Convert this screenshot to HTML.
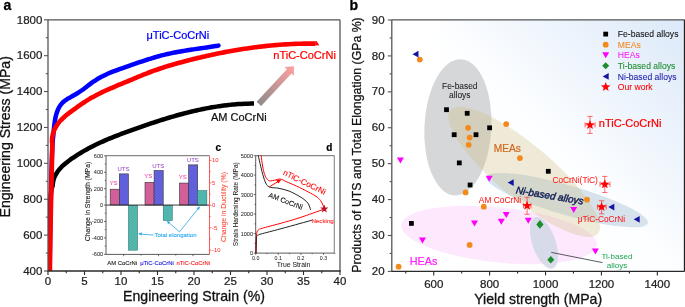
<!DOCTYPE html>
<html><head><meta charset="utf-8"><style>
html,body{margin:0;padding:0;background:#fff;}
body{width:685px;height:307px;overflow:hidden;}
svg{display:block;font-family:"Liberation Sans", sans-serif;}
</style></head><body>
<svg xmlns="http://www.w3.org/2000/svg" width="685" height="307" viewBox="0 0 685 307">
<rect width="685" height="307" fill="#fff"/>
<defs><clipPath id="ca"><rect x="48.0" y="19.8" width="292.0" height="251.2"/></clipPath><clipPath id="cb"><rect x="391.8" y="19.8" width="293" height="251.5"/></clipPath><linearGradient id="bg" x1="1" y1="0" x2="0" y2="1"><stop offset="0" stop-color="#dce9f9"/><stop offset="0.52" stop-color="#fdfeff"/><stop offset="1" stop-color="#ffffff"/></linearGradient><linearGradient id="arr" x1="0" y1="1" x2="1" y2="0"><stop offset="0" stop-color="#8a8a8a"/><stop offset="1" stop-color="#ffa0a0"/></linearGradient><pattern id="hatch" width="2.2" height="2.2" patternUnits="userSpaceOnUse" patternTransform="rotate(45)"><line x1="0" y1="0" x2="0" y2="2.2" stroke="#000" stroke-opacity="0.22" stroke-width="0.7"/></pattern></defs>
<g clip-path="url(#ca)" fill="none" stroke-linejoin="round">
<path d="M49.20,271.00 C49.30,264.17 49.58,241.83 49.80,230.00 C50.02,218.17 50.23,206.67 50.50,200.00 C50.77,193.33 51.05,192.33 51.40,190.00 C51.75,187.67 52.34,187.21 52.60,186.00 C52.85,184.79 52.77,183.81 52.94,182.77 C53.10,181.73 53.34,180.73 53.61,179.76 C53.89,178.79 54.23,177.86 54.61,176.96 C54.98,176.06 55.41,175.19 55.88,174.35 C56.34,173.51 56.86,172.70 57.40,171.92 C57.94,171.13 58.53,170.37 59.14,169.63 C59.75,168.90 60.40,168.18 61.07,167.49 C61.73,166.79 62.43,166.12 63.15,165.46 C63.87,164.81 64.61,164.17 65.36,163.54 C66.11,162.92 66.88,162.31 67.66,161.71 C68.44,161.10 69.23,160.52 70.03,159.93 C70.83,159.35 71.63,158.78 72.44,158.22 C73.25,157.66 74.06,157.10 74.88,156.55 C75.70,156.01 76.53,155.47 77.36,154.94 C78.19,154.41 79.03,153.88 79.88,153.37 C80.72,152.85 81.57,152.35 82.42,151.84 C83.27,151.34 84.13,150.85 85.00,150.36 C85.86,149.88 86.73,149.40 87.60,148.93 C88.47,148.45 89.35,147.99 90.23,147.53 C91.11,147.07 92.00,146.61 92.89,146.17 C93.78,145.72 94.67,145.28 95.57,144.84 C96.46,144.41 97.36,143.98 98.27,143.55 C99.17,143.13 100.08,142.71 100.99,142.29 C101.90,141.88 102.81,141.47 103.73,141.07 C104.65,140.66 105.57,140.26 106.49,139.87 C107.41,139.47 108.34,139.08 109.26,138.70 C110.19,138.31 111.12,137.93 112.05,137.55 C112.98,137.17 113.92,136.80 114.85,136.43 C115.79,136.06 116.72,135.69 117.66,135.32 C118.60,134.96 119.54,134.60 120.48,134.24 C121.42,133.88 122.36,133.53 123.31,133.18 C124.25,132.82 125.19,132.48 126.14,132.13 C127.08,131.78 128.03,131.44 128.98,131.09 C129.92,130.75 130.87,130.41 131.81,130.07 C132.76,129.73 133.71,129.39 134.65,129.06 C135.60,128.72 136.55,128.39 137.49,128.05 C138.44,127.72 139.39,127.39 140.33,127.06 C141.28,126.73 142.22,126.40 143.17,126.07 C144.12,125.74 145.06,125.42 146.01,125.09 C146.95,124.77 147.90,124.45 148.85,124.13 C149.79,123.81 150.74,123.49 151.69,123.18 C152.63,122.86 153.58,122.55 154.53,122.24 C155.47,121.93 156.42,121.62 157.37,121.31 C158.31,121.00 159.26,120.70 160.21,120.40 C161.16,120.10 162.11,119.80 163.05,119.50 C164.00,119.21 164.95,118.91 165.90,118.62 C166.85,118.33 167.80,118.04 168.75,117.76 C169.70,117.47 170.65,117.19 171.60,116.91 C172.55,116.63 173.51,116.35 174.46,116.08 C175.41,115.81 176.36,115.54 177.32,115.27 C178.27,115.01 179.22,114.74 180.18,114.48 C181.13,114.22 182.09,113.97 183.05,113.71 C184.00,113.46 184.96,113.21 185.92,112.97 C186.88,112.72 187.83,112.48 188.79,112.24 C189.75,112.00 190.71,111.77 191.68,111.54 C192.64,111.31 193.60,111.08 194.56,110.86 C195.53,110.64 196.49,110.42 197.46,110.21 C198.42,109.99 199.39,109.78 200.36,109.58 C201.32,109.37 202.29,109.17 203.26,108.98 C204.23,108.78 205.20,108.59 206.17,108.40 C207.15,108.22 208.12,108.03 209.09,107.86 C210.07,107.68 211.04,107.51 212.02,107.34 C213.00,107.17 213.98,107.01 214.96,106.85 C215.94,106.69 216.92,106.54 217.90,106.39 C218.88,106.24 219.87,106.10 220.85,105.96 C221.84,105.82 222.82,105.69 223.81,105.57 C224.80,105.44 225.79,105.32 226.78,105.20 C227.77,105.09 228.77,104.98 229.76,104.87 C230.75,104.77 231.75,104.67 232.75,104.58 C233.75,104.48 234.75,104.40 235.75,104.31 C236.75,104.23 237.75,104.16 238.76,104.09 C239.76,104.02 240.77,103.96 241.78,103.90 C242.79,103.84 243.80,103.79 244.81,103.75 C245.82,103.71 246.84,103.67 247.85,103.64 C248.87,103.61 249.89,103.58 250.91,103.56 C251.93,103.54 253.46,103.53 253.97,103.53" stroke="#000" stroke-width="4.5" fill="none"/>
<path d="M49.60,271.00 C49.70,264.17 49.97,243.50 50.20,230.00 C50.43,216.50 50.73,201.67 51.00,190.00 C51.27,178.33 51.55,167.50 51.80,160.00 C52.05,152.50 52.33,148.33 52.50,145.00 C52.67,141.67 52.69,141.31 52.80,140.00 C52.91,138.69 53.03,138.09 53.13,137.12 C53.24,136.15 53.33,135.17 53.42,134.19 C53.51,133.21 53.59,132.21 53.69,131.22 C53.78,130.23 53.86,129.23 53.96,128.23 C54.06,127.23 54.17,126.23 54.29,125.23 C54.40,124.23 54.53,123.23 54.68,122.23 C54.82,121.24 54.98,120.24 55.17,119.26 C55.35,118.28 55.56,117.30 55.79,116.33 C56.02,115.36 56.28,114.39 56.57,113.44 C56.86,112.50 57.18,111.56 57.55,110.65 C57.91,109.73 58.30,108.84 58.75,107.98 C59.20,107.13 59.69,106.29 60.24,105.51 C60.78,104.73 61.38,103.98 62.04,103.29 C62.69,102.59 63.41,101.95 64.16,101.34 C64.91,100.72 65.72,100.15 66.54,99.60 C67.36,99.04 68.22,98.53 69.08,98.01 C69.94,97.49 70.83,97.00 71.71,96.50 C72.59,96.00 73.47,95.51 74.34,95.01 C75.22,94.51 76.09,94.01 76.94,93.50 C77.80,92.98 78.65,92.46 79.48,91.92 C80.31,91.38 81.13,90.83 81.94,90.26 C82.75,89.69 83.54,89.10 84.32,88.50 C85.11,87.91 85.89,87.31 86.67,86.71 C87.45,86.11 88.22,85.50 89.00,84.90 C89.78,84.30 90.56,83.70 91.36,83.12 C92.15,82.54 92.95,81.97 93.77,81.42 C94.58,80.86 95.41,80.33 96.25,79.80 C97.09,79.28 97.95,78.78 98.81,78.29 C99.66,77.80 100.53,77.32 101.41,76.86 C102.28,76.40 103.17,75.95 104.05,75.52 C104.94,75.08 105.83,74.66 106.73,74.25 C107.63,73.84 108.53,73.44 109.44,73.05 C110.35,72.66 111.26,72.28 112.18,71.91 C113.09,71.54 114.01,71.18 114.94,70.82 C115.86,70.46 116.79,70.12 117.72,69.77 C118.64,69.43 119.58,69.09 120.51,68.76 C121.44,68.42 122.38,68.09 123.31,67.77 C124.25,67.44 125.19,67.12 126.13,66.79 C127.07,66.47 128.01,66.15 128.94,65.83 C129.88,65.51 130.82,65.19 131.76,64.86 C132.70,64.54 133.64,64.22 134.58,63.90 C135.51,63.58 136.45,63.26 137.39,62.94 C138.33,62.62 139.27,62.31 140.21,61.99 C141.15,61.68 142.09,61.36 143.03,61.05 C143.97,60.74 144.91,60.43 145.85,60.13 C146.79,59.82 147.74,59.52 148.68,59.22 C149.62,58.93 150.57,58.63 151.51,58.34 C152.46,58.05 153.40,57.77 154.35,57.49 C155.30,57.21 156.25,56.93 157.20,56.66 C158.15,56.39 159.10,56.13 160.06,55.87 C161.01,55.61 161.96,55.36 162.92,55.12 C163.88,54.87 164.84,54.64 165.80,54.41 C166.76,54.18 167.72,53.95 168.69,53.74 C169.65,53.52 170.62,53.32 171.58,53.11 C172.55,52.91 173.52,52.71 174.49,52.52 C175.46,52.33 176.43,52.15 177.41,51.97 C178.38,51.79 179.36,51.62 180.33,51.45 C181.31,51.27 182.28,51.11 183.26,50.95 C184.24,50.78 185.22,50.63 186.20,50.47 C187.17,50.32 188.15,50.16 189.13,50.01 C190.11,49.86 191.09,49.72 192.08,49.57 C193.06,49.43 194.04,49.28 195.02,49.14 C196.00,49.00 196.98,48.86 197.96,48.71 C198.94,48.57 199.92,48.43 200.91,48.29 C201.89,48.15 202.87,48.01 203.85,47.87 C204.83,47.73 205.81,47.59 206.79,47.44 C207.76,47.30 208.74,47.15 209.72,47.01 C210.70,46.86 211.67,46.71 212.65,46.56 C213.63,46.41 214.60,46.25 215.57,46.09 C216.55,45.94 218.00,45.69 218.49,45.61" stroke="#0000ff" stroke-width="4.5" fill="none" stroke-linecap="round"/>
<path d="M49.90,271.00 C50.00,264.17 50.27,243.50 50.50,230.00 C50.73,216.50 51.05,201.67 51.30,190.00 C51.55,178.33 51.83,167.50 52.00,160.00 C52.17,152.50 52.29,148.04 52.30,145.00 C52.31,141.97 52.07,142.84 52.03,141.79 C52.00,140.74 52.03,139.71 52.11,138.70 C52.19,137.69 52.33,136.70 52.52,135.73 C52.70,134.76 52.94,133.82 53.22,132.89 C53.51,131.96 53.84,131.05 54.21,130.17 C54.59,129.28 55.01,128.42 55.46,127.57 C55.92,126.73 56.42,125.91 56.95,125.11 C57.49,124.31 58.06,123.53 58.67,122.77 C59.27,122.01 59.91,121.28 60.57,120.56 C61.24,119.85 61.93,119.15 62.65,118.47 C63.36,117.78 64.10,117.12 64.85,116.47 C65.61,115.81 66.38,115.18 67.16,114.55 C67.95,113.92 68.75,113.30 69.55,112.69 C70.35,112.07 71.16,111.47 71.97,110.87 C72.78,110.27 73.59,109.68 74.41,109.09 C75.22,108.50 76.03,107.91 76.85,107.33 C77.66,106.75 78.48,106.17 79.29,105.60 C80.11,105.03 80.93,104.47 81.76,103.91 C82.58,103.36 83.40,102.80 84.23,102.26 C85.06,101.72 85.90,101.19 86.74,100.66 C87.57,100.14 88.42,99.62 89.26,99.11 C90.11,98.60 90.96,98.11 91.82,97.62 C92.68,97.13 93.54,96.65 94.41,96.18 C95.28,95.71 96.15,95.25 97.03,94.79 C97.91,94.34 98.79,93.89 99.68,93.45 C100.56,93.01 101.45,92.58 102.34,92.15 C103.24,91.73 104.13,91.31 105.03,90.89 C105.93,90.48 106.84,90.07 107.74,89.66 C108.65,89.26 109.55,88.86 110.46,88.46 C111.37,88.06 112.29,87.67 113.20,87.28 C114.11,86.89 115.03,86.51 115.95,86.12 C116.86,85.74 117.78,85.35 118.70,84.97 C119.62,84.59 120.54,84.21 121.46,83.84 C122.38,83.46 123.30,83.08 124.22,82.70 C125.14,82.32 126.06,81.95 126.98,81.57 C127.90,81.19 128.82,80.81 129.74,80.43 C130.66,80.05 131.58,79.66 132.49,79.28 C133.41,78.90 134.33,78.51 135.25,78.13 C136.16,77.75 137.08,77.36 138.00,76.98 C138.91,76.60 139.83,76.22 140.75,75.84 C141.67,75.46 142.59,75.08 143.51,74.71 C144.43,74.34 145.35,73.97 146.27,73.60 C147.19,73.24 148.11,72.87 149.04,72.52 C149.96,72.16 150.89,71.81 151.82,71.46 C152.75,71.11 153.68,70.77 154.61,70.44 C155.55,70.10 156.48,69.77 157.42,69.45 C158.36,69.13 159.30,68.81 160.24,68.50 C161.18,68.19 162.12,67.88 163.07,67.58 C164.01,67.27 164.96,66.98 165.91,66.68 C166.86,66.39 167.81,66.10 168.76,65.82 C169.71,65.53 170.66,65.25 171.61,64.97 C172.57,64.69 173.52,64.42 174.48,64.15 C175.43,63.87 176.39,63.60 177.34,63.34 C178.30,63.07 179.26,62.81 180.22,62.55 C181.17,62.28 182.13,62.02 183.09,61.77 C184.05,61.51 185.01,61.25 185.97,61.00 C186.93,60.75 187.89,60.50 188.85,60.25 C189.81,60.00 190.78,59.76 191.74,59.51 C192.70,59.27 193.66,59.03 194.63,58.79 C195.59,58.55 196.56,58.32 197.52,58.08 C198.49,57.85 199.45,57.62 200.42,57.39 C201.38,57.16 202.35,56.93 203.32,56.71 C204.28,56.49 205.25,56.26 206.22,56.04 C207.19,55.83 208.16,55.61 209.13,55.40 C210.10,55.18 211.07,54.97 212.04,54.76 C213.01,54.55 213.98,54.35 214.95,54.14 C215.92,53.94 216.89,53.74 217.86,53.54 C218.84,53.34 219.81,53.15 220.78,52.95 C221.76,52.76 222.73,52.57 223.71,52.38 C224.68,52.19 225.66,52.01 226.63,51.83 C227.61,51.64 228.58,51.46 229.56,51.29 C230.54,51.11 231.51,50.94 232.49,50.76 C233.47,50.59 234.45,50.42 235.43,50.26 C236.41,50.09 237.38,49.93 238.36,49.77 C239.34,49.61 240.32,49.45 241.31,49.30 C242.29,49.14 243.27,48.99 244.25,48.84 C245.23,48.69 246.21,48.54 247.20,48.40 C248.18,48.26 249.16,48.12 250.15,47.98 C251.13,47.84 252.11,47.71 253.10,47.58 C254.08,47.44 255.07,47.32 256.05,47.19 C257.04,47.06 258.02,46.94 259.01,46.82 C260.00,46.70 260.98,46.59 261.97,46.47 C262.96,46.36 263.95,46.25 264.93,46.14 C265.92,46.03 266.91,45.93 267.90,45.83 C268.89,45.73 269.88,45.63 270.86,45.54 C271.85,45.44 272.84,45.35 273.83,45.26 C274.82,45.18 275.81,45.09 276.80,45.01 C277.79,44.93 278.78,44.85 279.77,44.78 C280.76,44.70 281.76,44.63 282.75,44.57 C283.74,44.50 284.73,44.43 285.72,44.37 C286.71,44.31 287.70,44.26 288.70,44.20 C289.69,44.15 290.68,44.10 291.67,44.05 C292.66,44.01 293.66,43.96 294.65,43.92 C295.64,43.89 296.63,43.85 297.63,43.82 C298.62,43.79 299.61,43.76 300.60,43.73 C301.60,43.71 302.59,43.69 303.58,43.67 C304.58,43.65 305.57,43.64 306.56,43.63 C307.55,43.62 308.55,43.62 309.54,43.61 C310.53,43.61 311.53,43.62 312.52,43.62 C313.51,43.63 315.00,43.65 315.50,43.65" stroke="#ff0000" stroke-width="4.6" fill="none"/>
<path d="M315.4,40.9 L316.8,41.2 L319.3,45.6 L315.4,45.2 Z" fill="#ff0000"/>
</g>
<g>
<path d="M261.16,105.92 L291.48,73.53 L293.82,75.72 L294.00,66.30 L284.62,67.11 L286.95,69.29 L256.64,101.68 Z" fill="url(#arr)"/>
</g>
<line x1="48.00" y1="19.80" x2="340.00" y2="19.80" stroke="#555" stroke-width="1.3"/>
<line x1="340.00" y1="19.80" x2="340.00" y2="271.00" stroke="#555" stroke-width="1.3"/>
<line x1="48.00" y1="19.80" x2="48.00" y2="271.00" stroke="#555" stroke-width="1.3"/>
<line x1="47.40" y1="271.00" x2="340.60" y2="271.00" stroke="#2a2a2a" stroke-width="1.3"/>
<line x1="44.00" y1="271.00" x2="48.00" y2="271.00" stroke="#555" stroke-width="1.1"/>
<text x="42.40" y="274.70" font-size="11.5" fill="#222" text-anchor="end" stroke="#222" stroke-width="0.240">400</text>
<line x1="45.80" y1="253.06" x2="48.00" y2="253.06" stroke="#555" stroke-width="1.1"/>
<line x1="44.00" y1="235.11" x2="48.00" y2="235.11" stroke="#555" stroke-width="1.1"/>
<text x="42.40" y="238.81" font-size="11.5" fill="#222" text-anchor="end" stroke="#222" stroke-width="0.240">600</text>
<line x1="45.80" y1="217.17" x2="48.00" y2="217.17" stroke="#555" stroke-width="1.1"/>
<line x1="44.00" y1="199.23" x2="48.00" y2="199.23" stroke="#555" stroke-width="1.1"/>
<text x="42.40" y="202.93" font-size="11.5" fill="#222" text-anchor="end" stroke="#222" stroke-width="0.240">800</text>
<line x1="45.80" y1="181.29" x2="48.00" y2="181.29" stroke="#555" stroke-width="1.1"/>
<line x1="44.00" y1="163.34" x2="48.00" y2="163.34" stroke="#555" stroke-width="1.1"/>
<text x="42.40" y="167.04" font-size="11.5" fill="#222" text-anchor="end" stroke="#222" stroke-width="0.240">1000</text>
<line x1="45.80" y1="145.40" x2="48.00" y2="145.40" stroke="#555" stroke-width="1.1"/>
<line x1="44.00" y1="127.46" x2="48.00" y2="127.46" stroke="#555" stroke-width="1.1"/>
<text x="42.40" y="131.16" font-size="11.5" fill="#222" text-anchor="end" stroke="#222" stroke-width="0.240">1200</text>
<line x1="45.80" y1="109.51" x2="48.00" y2="109.51" stroke="#555" stroke-width="1.1"/>
<line x1="44.00" y1="91.57" x2="48.00" y2="91.57" stroke="#555" stroke-width="1.1"/>
<text x="42.40" y="95.27" font-size="11.5" fill="#222" text-anchor="end" stroke="#222" stroke-width="0.240">1400</text>
<line x1="45.80" y1="73.63" x2="48.00" y2="73.63" stroke="#555" stroke-width="1.1"/>
<line x1="44.00" y1="55.69" x2="48.00" y2="55.69" stroke="#555" stroke-width="1.1"/>
<text x="42.40" y="59.39" font-size="11.5" fill="#222" text-anchor="end" stroke="#222" stroke-width="0.240">1600</text>
<line x1="45.80" y1="37.74" x2="48.00" y2="37.74" stroke="#555" stroke-width="1.1"/>
<line x1="44.00" y1="19.80" x2="48.00" y2="19.80" stroke="#555" stroke-width="1.1"/>
<text x="42.40" y="23.50" font-size="11.5" fill="#222" text-anchor="end" stroke="#222" stroke-width="0.240">1800</text>
<line x1="48.00" y1="271.00" x2="48.00" y2="275.00" stroke="#2a2a2a" stroke-width="1.1"/>
<text x="48.00" y="285.20" font-size="11.5" fill="#222" text-anchor="middle" stroke="#222" stroke-width="0.240">0</text>
<line x1="66.25" y1="271.00" x2="66.25" y2="273.20" stroke="#2a2a2a" stroke-width="1.1"/>
<line x1="84.50" y1="271.00" x2="84.50" y2="275.00" stroke="#2a2a2a" stroke-width="1.1"/>
<text x="84.50" y="285.20" font-size="11.5" fill="#222" text-anchor="middle" stroke="#222" stroke-width="0.240">5</text>
<line x1="102.75" y1="271.00" x2="102.75" y2="273.20" stroke="#2a2a2a" stroke-width="1.1"/>
<line x1="121.00" y1="271.00" x2="121.00" y2="275.00" stroke="#2a2a2a" stroke-width="1.1"/>
<text x="121.00" y="285.20" font-size="11.5" fill="#222" text-anchor="middle" stroke="#222" stroke-width="0.240">10</text>
<line x1="139.25" y1="271.00" x2="139.25" y2="273.20" stroke="#2a2a2a" stroke-width="1.1"/>
<line x1="157.50" y1="271.00" x2="157.50" y2="275.00" stroke="#2a2a2a" stroke-width="1.1"/>
<text x="157.50" y="285.20" font-size="11.5" fill="#222" text-anchor="middle" stroke="#222" stroke-width="0.240">15</text>
<line x1="175.75" y1="271.00" x2="175.75" y2="273.20" stroke="#2a2a2a" stroke-width="1.1"/>
<line x1="194.00" y1="271.00" x2="194.00" y2="275.00" stroke="#2a2a2a" stroke-width="1.1"/>
<text x="194.00" y="285.20" font-size="11.5" fill="#222" text-anchor="middle" stroke="#222" stroke-width="0.240">20</text>
<line x1="212.25" y1="271.00" x2="212.25" y2="273.20" stroke="#2a2a2a" stroke-width="1.1"/>
<line x1="230.50" y1="271.00" x2="230.50" y2="275.00" stroke="#2a2a2a" stroke-width="1.1"/>
<text x="230.50" y="285.20" font-size="11.5" fill="#222" text-anchor="middle" stroke="#222" stroke-width="0.240">25</text>
<line x1="248.75" y1="271.00" x2="248.75" y2="273.20" stroke="#2a2a2a" stroke-width="1.1"/>
<line x1="267.00" y1="271.00" x2="267.00" y2="275.00" stroke="#2a2a2a" stroke-width="1.1"/>
<text x="267.00" y="285.20" font-size="11.5" fill="#222" text-anchor="middle" stroke="#222" stroke-width="0.240">30</text>
<line x1="285.25" y1="271.00" x2="285.25" y2="273.20" stroke="#2a2a2a" stroke-width="1.1"/>
<line x1="303.50" y1="271.00" x2="303.50" y2="275.00" stroke="#2a2a2a" stroke-width="1.1"/>
<text x="303.50" y="285.20" font-size="11.5" fill="#222" text-anchor="middle" stroke="#222" stroke-width="0.240">35</text>
<line x1="321.75" y1="271.00" x2="321.75" y2="273.20" stroke="#2a2a2a" stroke-width="1.1"/>
<line x1="340.00" y1="271.00" x2="340.00" y2="275.00" stroke="#2a2a2a" stroke-width="1.1"/>
<text x="340.00" y="285.20" font-size="11.5" fill="#222" text-anchor="middle" stroke="#222" stroke-width="0.240">40</text>
<text x="194.00" y="301.20" font-size="14.1" fill="#111" text-anchor="middle" stroke="#111" stroke-width="0.294">Engineering Strain (%)</text>
<text x="10.20" y="136.80" font-size="14.1" fill="#111" text-anchor="middle" transform="rotate(-90 10.2 136.8)" stroke="#111" stroke-width="0.294">Engineering Stress (MPa)</text>
<text x="3.40" y="9.90" font-size="14" fill="#000" text-anchor="start" font-weight="bold" stroke="#000" stroke-width="0.292">a</text>
<text x="146.50" y="38.90" font-size="11" fill="#0000ff" text-anchor="start" stroke="#0000ff" stroke-width="0.229">μTiC-CoCrNi</text>
<text x="273.30" y="59.00" font-size="11" fill="#ff0000" text-anchor="start" stroke="#ff0000" stroke-width="0.229">nTiC-CoCrNi</text>
<text x="211.00" y="120.70" font-size="11" fill="#111" text-anchor="start" stroke="#111" stroke-width="0.229">AM CoCrNi</text>
<rect x="106.0" y="155.7" width="103.5" height="98.70000000000002" fill="#fff"/>
<rect x="110.20" y="189.22" width="9.10" height="15.83" fill="#d8649e" stroke="#333" stroke-width="0.6"/>
<rect x="110.20" y="189.22" width="9.10" height="15.83" fill="url(#hatch)"/>
<rect x="119.30" y="173.89" width="9.10" height="31.16" fill="#6464e2" stroke="#333" stroke-width="0.6"/>
<rect x="119.30" y="173.89" width="9.10" height="31.16" fill="url(#hatch)"/>
<rect x="128.40" y="205.30" width="9.20" height="44.90" fill="#54bcb3" stroke="#2e6e6a" stroke-width="0.5"/>
<rect x="128.40" y="205.30" width="9.20" height="44.90" fill="url(#hatch)"/>
<rect x="145.00" y="182.42" width="9.10" height="22.63" fill="#d8649e" stroke="#333" stroke-width="0.6"/>
<rect x="145.00" y="182.42" width="9.10" height="22.63" fill="url(#hatch)"/>
<rect x="154.10" y="170.53" width="9.10" height="34.52" fill="#6464e2" stroke="#333" stroke-width="0.6"/>
<rect x="154.10" y="170.53" width="9.10" height="34.52" fill="url(#hatch)"/>
<rect x="163.20" y="205.30" width="9.20" height="15.27" fill="#54bcb3" stroke="#2e6e6a" stroke-width="0.5"/>
<rect x="163.20" y="205.30" width="9.20" height="15.27" fill="url(#hatch)"/>
<rect x="179.50" y="183.07" width="9.10" height="21.98" fill="#d8649e" stroke="#333" stroke-width="0.6"/>
<rect x="179.50" y="183.07" width="9.10" height="21.98" fill="url(#hatch)"/>
<rect x="188.60" y="164.87" width="9.10" height="40.18" fill="#6464e2" stroke="#333" stroke-width="0.6"/>
<rect x="188.60" y="164.87" width="9.10" height="40.18" fill="url(#hatch)"/>
<rect x="197.70" y="190.48" width="9.20" height="14.82" fill="#54bcb3" stroke="#2e6e6a" stroke-width="0.5"/>
<rect x="197.70" y="190.48" width="9.20" height="14.82" fill="url(#hatch)"/>
<text x="113.40" y="185.22" font-size="6.0" fill="#f040a0" text-anchor="middle" stroke="#f040a0" stroke-width="0.040">YS</text>
<text x="123.50" y="171.09" font-size="6.0" fill="#9a4ad0" text-anchor="middle" stroke="#9a4ad0" stroke-width="0.040">UTS</text>
<text x="148.20" y="178.42" font-size="6.0" fill="#f040a0" text-anchor="middle" stroke="#f040a0" stroke-width="0.040">YS</text>
<text x="158.30" y="167.73" font-size="6.0" fill="#9a4ad0" text-anchor="middle" stroke="#9a4ad0" stroke-width="0.040">UTS</text>
<text x="182.70" y="179.07" font-size="6.0" fill="#f040a0" text-anchor="middle" stroke="#f040a0" stroke-width="0.040">YS</text>
<text x="192.80" y="162.07" font-size="6.0" fill="#9a4ad0" text-anchor="middle" stroke="#9a4ad0" stroke-width="0.040">UTS</text>
<line x1="106.00" y1="205.05" x2="209.50" y2="205.05" stroke="#222" stroke-width="0.9"/>
<line x1="106.00" y1="155.70" x2="209.50" y2="155.70" stroke="#888" stroke-width="1.2"/>
<line x1="106.00" y1="155.70" x2="106.00" y2="254.40" stroke="#333" stroke-width="0.8"/>
<line x1="106.00" y1="254.40" x2="209.50" y2="254.40" stroke="#333" stroke-width="0.8"/>
<line x1="209.50" y1="155.70" x2="209.50" y2="254.40" stroke="#ff3030" stroke-width="0.8"/>
<line x1="104.00" y1="254.25" x2="106.00" y2="254.25" stroke="#333" stroke-width="0.7"/>
<text x="103.20" y="256.25" font-size="5.6" fill="#222" text-anchor="end" stroke="#222" stroke-width="0.023">-600</text>
<line x1="104.80" y1="246.05" x2="106.00" y2="246.05" stroke="#333" stroke-width="0.7"/>
<line x1="104.00" y1="237.85" x2="106.00" y2="237.85" stroke="#333" stroke-width="0.7"/>
<text x="103.20" y="239.85" font-size="5.6" fill="#222" text-anchor="end" stroke="#222" stroke-width="0.023">-400</text>
<line x1="104.80" y1="229.65" x2="106.00" y2="229.65" stroke="#333" stroke-width="0.7"/>
<line x1="104.00" y1="221.45" x2="106.00" y2="221.45" stroke="#333" stroke-width="0.7"/>
<text x="103.20" y="223.45" font-size="5.6" fill="#222" text-anchor="end" stroke="#222" stroke-width="0.023">-200</text>
<line x1="104.80" y1="213.25" x2="106.00" y2="213.25" stroke="#333" stroke-width="0.7"/>
<line x1="104.00" y1="205.05" x2="106.00" y2="205.05" stroke="#333" stroke-width="0.7"/>
<text x="103.20" y="207.05" font-size="5.6" fill="#222" text-anchor="end" stroke="#222" stroke-width="0.023">0</text>
<line x1="104.80" y1="196.85" x2="106.00" y2="196.85" stroke="#333" stroke-width="0.7"/>
<line x1="104.00" y1="188.65" x2="106.00" y2="188.65" stroke="#333" stroke-width="0.7"/>
<text x="103.20" y="190.65" font-size="5.6" fill="#222" text-anchor="end" stroke="#222" stroke-width="0.023">200</text>
<line x1="104.80" y1="180.45" x2="106.00" y2="180.45" stroke="#333" stroke-width="0.7"/>
<line x1="104.00" y1="172.25" x2="106.00" y2="172.25" stroke="#333" stroke-width="0.7"/>
<text x="103.20" y="174.25" font-size="5.6" fill="#222" text-anchor="end" stroke="#222" stroke-width="0.023">400</text>
<line x1="104.80" y1="164.05" x2="106.00" y2="164.05" stroke="#333" stroke-width="0.7"/>
<line x1="104.00" y1="155.85" x2="106.00" y2="155.85" stroke="#333" stroke-width="0.7"/>
<text x="103.20" y="157.85" font-size="5.6" fill="#222" text-anchor="end" stroke="#222" stroke-width="0.023">600</text>
<line x1="209.50" y1="250.20" x2="211.50" y2="250.20" stroke="#ff3030" stroke-width="0.7"/>
<text x="212.10" y="252.20" font-size="5.8" fill="#ff3030" text-anchor="start" stroke="#ff3030" stroke-width="0.024">-10</text>
<line x1="209.50" y1="227.75" x2="211.50" y2="227.75" stroke="#ff3030" stroke-width="0.7"/>
<text x="212.10" y="229.75" font-size="5.8" fill="#ff3030" text-anchor="start" stroke="#ff3030" stroke-width="0.024">-5</text>
<line x1="209.50" y1="205.30" x2="211.50" y2="205.30" stroke="#ff3030" stroke-width="0.7"/>
<text x="212.10" y="207.30" font-size="5.8" fill="#ff3030" text-anchor="start" stroke="#ff3030" stroke-width="0.024">0</text>
<line x1="209.50" y1="182.85" x2="211.50" y2="182.85" stroke="#ff3030" stroke-width="0.7"/>
<text x="212.10" y="184.85" font-size="5.8" fill="#ff3030" text-anchor="start" stroke="#ff3030" stroke-width="0.024">5</text>
<line x1="209.50" y1="160.40" x2="211.50" y2="160.40" stroke="#ff3030" stroke-width="0.7"/>
<text x="212.10" y="162.40" font-size="5.8" fill="#ff3030" text-anchor="start" stroke="#ff3030" stroke-width="0.024">10</text>
<line x1="209.50" y1="238.98" x2="210.70" y2="238.98" stroke="#ff3030" stroke-width="0.7"/>
<line x1="209.50" y1="216.53" x2="210.70" y2="216.53" stroke="#ff3030" stroke-width="0.7"/>
<line x1="209.50" y1="194.08" x2="210.70" y2="194.08" stroke="#ff3030" stroke-width="0.7"/>
<line x1="209.50" y1="171.62" x2="210.70" y2="171.62" stroke="#ff3030" stroke-width="0.7"/>
<line x1="123.70" y1="254.40" x2="123.70" y2="256.20" stroke="#333" stroke-width="0.7"/>
<line x1="158.50" y1="254.40" x2="158.50" y2="256.20" stroke="#333" stroke-width="0.7"/>
<line x1="193.00" y1="254.40" x2="193.00" y2="256.20" stroke="#333" stroke-width="0.7"/>
<line x1="141.10" y1="254.40" x2="141.10" y2="255.60" stroke="#333" stroke-width="0.7"/>
<line x1="175.75" y1="254.40" x2="175.75" y2="255.60" stroke="#333" stroke-width="0.7"/>
<text x="122.10" y="264.60" font-size="5.9" fill="#222" text-anchor="middle" stroke="#222" stroke-width="0.123">AM CoCrNi</text>
<text x="157.00" y="264.60" font-size="5.9" fill="#2020e0" text-anchor="middle" stroke="#2020e0" stroke-width="0.123">μTiC-CoCrNi</text>
<text x="193.30" y="264.60" font-size="5.9" fill="#ff2020" text-anchor="middle" stroke="#ff2020" stroke-width="0.123">nTiC-CoCrNi</text>
<text x="89.90" y="201.50" font-size="6.85" fill="#222" text-anchor="middle" transform="rotate(-90 89.9 201.5)" stroke="#222" stroke-width="0.114">Change in Strength (MPa)</text>
<text x="226.30" y="207.00" font-size="6.9" fill="#ff4030" text-anchor="middle" transform="rotate(-90 226.3 207)" stroke="#ff4030" stroke-width="0.046">Change in Ductility (%)</text>
<text x="215.50" y="151.30" font-size="10" fill="#000" text-anchor="start" font-weight="bold" stroke="#000" stroke-width="0.208">c</text>
<text x="154.50" y="237.20" font-size="6.0" fill="#26a8ee" text-anchor="start" stroke="#26a8ee" stroke-width="0.100">Total elongation</text>
<line x1="138.80" y1="233.90" x2="153.60" y2="235.10" stroke="#26a8ee" stroke-width="0.8"/>
<path d="M138.5,233.7 L141.8,232.2 L141.6,235.5 Z" fill="#26a8ee"/>
<line x1="179.50" y1="231.90" x2="167.30" y2="221.20" stroke="#26a8ee" stroke-width="0.8"/>
<line x1="179.50" y1="231.90" x2="199.60" y2="206.80" stroke="#26a8ee" stroke-width="0.8"/>
<path d="M167,220.8 L170.3,221.9 L168.1,224.2 Z" fill="#26a8ee"/>
<path d="M199.8,206.5 L199.0,209.9 L196.6,208.0 Z" fill="#26a8ee"/>
<rect x="255.7" y="155.6" width="78.60000000000002" height="97.5" fill="#fff"/>
<line x1="255.70" y1="155.60" x2="334.30" y2="155.60" stroke="#888" stroke-width="1.1"/>
<line x1="334.30" y1="155.60" x2="334.30" y2="253.10" stroke="#888" stroke-width="1.1"/>
<line x1="255.70" y1="155.60" x2="255.70" y2="253.10" stroke="#333" stroke-width="0.8"/>
<line x1="255.70" y1="253.10" x2="334.30" y2="253.10" stroke="#333" stroke-width="0.8"/>
<line x1="253.70" y1="253.10" x2="255.70" y2="253.10" stroke="#333" stroke-width="0.7"/>
<text x="253.10" y="255.10" font-size="5.6" fill="#222" text-anchor="end" stroke="#222" stroke-width="0.023">0</text>
<line x1="254.50" y1="243.35" x2="255.70" y2="243.35" stroke="#333" stroke-width="0.7"/>
<line x1="253.70" y1="233.60" x2="255.70" y2="233.60" stroke="#333" stroke-width="0.7"/>
<text x="253.10" y="235.60" font-size="5.6" fill="#222" text-anchor="end" stroke="#222" stroke-width="0.023">1000</text>
<line x1="254.50" y1="223.85" x2="255.70" y2="223.85" stroke="#333" stroke-width="0.7"/>
<line x1="253.70" y1="214.10" x2="255.70" y2="214.10" stroke="#333" stroke-width="0.7"/>
<text x="253.10" y="216.10" font-size="5.6" fill="#222" text-anchor="end" stroke="#222" stroke-width="0.023">2000</text>
<line x1="254.50" y1="204.35" x2="255.70" y2="204.35" stroke="#333" stroke-width="0.7"/>
<line x1="253.70" y1="194.60" x2="255.70" y2="194.60" stroke="#333" stroke-width="0.7"/>
<text x="253.10" y="196.60" font-size="5.6" fill="#222" text-anchor="end" stroke="#222" stroke-width="0.023">3000</text>
<line x1="254.50" y1="184.85" x2="255.70" y2="184.85" stroke="#333" stroke-width="0.7"/>
<line x1="253.70" y1="175.10" x2="255.70" y2="175.10" stroke="#333" stroke-width="0.7"/>
<text x="253.10" y="177.10" font-size="5.6" fill="#222" text-anchor="end" stroke="#222" stroke-width="0.023">4000</text>
<line x1="254.50" y1="165.35" x2="255.70" y2="165.35" stroke="#333" stroke-width="0.7"/>
<line x1="253.70" y1="155.60" x2="255.70" y2="155.60" stroke="#333" stroke-width="0.7"/>
<text x="253.10" y="157.60" font-size="5.6" fill="#222" text-anchor="end" stroke="#222" stroke-width="0.023">5000</text>
<line x1="255.70" y1="253.10" x2="255.70" y2="254.90" stroke="#333" stroke-width="0.7"/>
<text x="255.70" y="259.80" font-size="5.3" fill="#222" text-anchor="middle" stroke="#222" stroke-width="0.022">0.0</text>
<line x1="267.00" y1="253.10" x2="267.00" y2="254.20" stroke="#333" stroke-width="0.7"/>
<line x1="278.30" y1="253.10" x2="278.30" y2="254.90" stroke="#333" stroke-width="0.7"/>
<text x="278.30" y="259.80" font-size="5.3" fill="#222" text-anchor="middle" stroke="#222" stroke-width="0.022">0.1</text>
<line x1="289.60" y1="253.10" x2="289.60" y2="254.20" stroke="#333" stroke-width="0.7"/>
<line x1="300.90" y1="253.10" x2="300.90" y2="254.90" stroke="#333" stroke-width="0.7"/>
<text x="300.90" y="259.80" font-size="5.3" fill="#222" text-anchor="middle" stroke="#222" stroke-width="0.022">0.2</text>
<line x1="312.20" y1="253.10" x2="312.20" y2="254.20" stroke="#333" stroke-width="0.7"/>
<line x1="323.50" y1="253.10" x2="323.50" y2="254.90" stroke="#333" stroke-width="0.7"/>
<text x="323.50" y="259.80" font-size="5.3" fill="#222" text-anchor="middle" stroke="#222" stroke-width="0.022">0.3</text>
<line x1="334.80" y1="253.10" x2="334.80" y2="254.20" stroke="#333" stroke-width="0.7"/>
<text x="293.50" y="266.80" font-size="6.85" fill="#222" text-anchor="middle" stroke="#222" stroke-width="0.046">True Strain</text>
<text x="238.30" y="204.20" font-size="6.5" fill="#222" text-anchor="middle" transform="rotate(-90 238.3 204.2)" stroke="#222" stroke-width="0.043">Strain Hardening Rate (MPa)</text>
<text x="326.20" y="151.30" font-size="10" fill="#000" text-anchor="start" font-weight="bold" stroke="#000" stroke-width="0.208">d</text>
<g fill="none" stroke-linejoin="round" stroke-linecap="round">
<path d="M261.20,155.70 C261.43,157.42 262.03,162.87 262.60,166.00 C263.17,169.13 263.78,172.23 264.60,174.50 C265.42,176.77 266.52,178.53 267.50,179.60 C268.48,180.67 269.32,180.80 270.50,180.90 C271.68,181.00 272.93,180.50 274.60,180.20 C276.27,179.90 278.53,178.85 280.50,179.10 C282.47,179.35 283.72,180.53 286.40,181.70 C289.08,182.87 292.95,184.38 296.60,186.10 C300.25,187.82 305.07,190.30 308.30,192.00 C311.53,193.70 313.97,194.88 316.00,196.30 C318.03,197.72 319.33,199.02 320.50,200.50 C321.67,201.98 322.35,203.83 323.00,205.20 C323.65,206.57 324.17,208.12 324.40,208.70" stroke="#ff0000" stroke-width="1.0" fill="none"/>
<path d="M258.30,155.70 C258.70,157.47 259.83,162.75 260.70,166.30 C261.57,169.85 262.52,173.95 263.50,177.00 C264.48,180.05 265.47,182.88 266.60,184.60 C267.73,186.32 268.23,186.68 270.30,187.30 C272.37,187.92 275.83,187.65 279.00,188.30 C282.17,188.95 286.12,189.98 289.30,191.20 C292.48,192.42 295.67,194.25 298.10,195.60 C300.53,196.95 302.20,197.95 303.90,199.30 C305.60,200.65 307.20,202.00 308.30,203.70 C309.40,205.40 310.13,208.53 310.50,209.50" stroke="#222" stroke-width="1.0" fill="none"/>
<path d="M256.00,253.00 C256.07,250.83 256.25,243.47 256.40,240.00 C256.55,236.53 256.47,233.95 256.90,232.20 C257.33,230.45 258.15,230.15 259.00,229.50 C259.85,228.85 258.50,229.30 262.00,228.30 C265.50,227.30 273.67,225.28 280.00,223.50 C286.33,221.72 292.63,220.00 300.00,217.60 C307.37,215.20 320.17,210.52 324.20,209.10" stroke="#ff0000" stroke-width="1.0" fill="none"/>
<path d="M256.00,253.00 C256.03,251.33 256.10,245.75 256.20,243.00 C256.30,240.25 256.22,237.83 256.60,236.50 C256.98,235.17 257.77,235.42 258.50,235.00 C259.23,234.58 257.42,235.00 261.00,234.00 C264.58,233.00 273.50,230.75 280.00,229.00 C286.50,227.25 294.75,224.95 300.00,223.50 C305.25,222.05 309.58,220.83 311.50,220.30" stroke="#222" stroke-width="1.0" fill="none"/>
</g>
<line x1="269.70" y1="186.70" x2="278.50" y2="181.20" stroke="#ff0000" stroke-width="1.0"/>
<path d="M281.5,179.4 L276.2,180.0 L278.4,183.6 Z" fill="#ff0000"/>
<path d="M324.30,204.60 L325.36,207.44 L328.39,207.57 L326.02,209.46 L326.83,212.38 L324.30,210.71 L321.77,212.38 L322.58,209.46 L320.21,207.57 L323.24,207.44 Z" fill="#c0102a"/>
<text x="282.40" y="174.60" font-size="8.2" fill="#ff0000" text-anchor="start" transform="rotate(26 282.4 174.6)" stroke="#ff0000" stroke-width="0.102">nTiC-CoCrNi</text>
<text x="268.00" y="196.90" font-size="7.1" fill="#111" text-anchor="start" transform="rotate(21 268.0 196.9)" stroke="#111" stroke-width="0.106">AM CoCrNi</text>
<text x="322.60" y="222.60" font-size="6.2" fill="#ff3030" text-anchor="middle" stroke="#ff3030" stroke-width="0.129">Necking</text>
<rect x="438.5" y="19.8" width="246.0" height="251.59999999999997" fill="url(#bg)"/>
<g clip-path="url(#cb)">
<ellipse cx="457.9" cy="127.3" rx="33.5" ry="68.2" transform="rotate(2.7 457.9 127.3)" fill="#d6d7d8" style="mix-blend-mode:multiply"/>
<ellipse cx="498.9" cy="235.0" rx="98.4" ry="27.5" transform="rotate(5.9 498.9 235.0)" fill="#fde8fd" style="mix-blend-mode:multiply"/>
<ellipse cx="567.1" cy="200.1" rx="83.9" ry="14.9" transform="rotate(16.0 567.1 200.1)" fill="#d6e2ec" style="mix-blend-mode:multiply"/>
<ellipse cx="524.2" cy="171.9" rx="96.2" ry="27.1" transform="rotate(39.9 524.2 171.9)" fill="#d0bc7d" fill-opacity="0.3"/>
<ellipse cx="544.0" cy="242.9" rx="27" ry="11.6" transform="rotate(71 544.0 242.9)" fill="#cdd6e2" fill-opacity="0.8"/>
</g>
<line x1="391.80" y1="19.80" x2="684.50" y2="19.80" stroke="#555" stroke-width="1.3"/>
<line x1="391.80" y1="19.80" x2="391.80" y2="271.40" stroke="#555" stroke-width="1.3"/>
<line x1="684.50" y1="19.80" x2="684.50" y2="271.40" stroke="#222" stroke-width="1.3"/>
<line x1="391.20" y1="271.40" x2="684.50" y2="271.40" stroke="#2a2a2a" stroke-width="1.3"/>
<line x1="387.80" y1="271.40" x2="391.80" y2="271.40" stroke="#555" stroke-width="1.1"/>
<text x="384.60" y="275.00" font-size="11.5" fill="#222" text-anchor="end" stroke="#222" stroke-width="0.240">20</text>
<line x1="389.60" y1="253.44" x2="391.80" y2="253.44" stroke="#555" stroke-width="1.1"/>
<line x1="387.80" y1="235.49" x2="391.80" y2="235.49" stroke="#555" stroke-width="1.1"/>
<text x="384.60" y="239.09" font-size="11.5" fill="#222" text-anchor="end" stroke="#222" stroke-width="0.240">30</text>
<line x1="389.60" y1="217.53" x2="391.80" y2="217.53" stroke="#555" stroke-width="1.1"/>
<line x1="387.80" y1="199.57" x2="391.80" y2="199.57" stroke="#555" stroke-width="1.1"/>
<text x="384.60" y="203.17" font-size="11.5" fill="#222" text-anchor="end" stroke="#222" stroke-width="0.240">40</text>
<line x1="389.60" y1="181.61" x2="391.80" y2="181.61" stroke="#555" stroke-width="1.1"/>
<line x1="387.80" y1="163.66" x2="391.80" y2="163.66" stroke="#555" stroke-width="1.1"/>
<text x="384.60" y="167.26" font-size="11.5" fill="#222" text-anchor="end" stroke="#222" stroke-width="0.240">50</text>
<line x1="389.60" y1="145.70" x2="391.80" y2="145.70" stroke="#555" stroke-width="1.1"/>
<line x1="387.80" y1="127.74" x2="391.80" y2="127.74" stroke="#555" stroke-width="1.1"/>
<text x="384.60" y="131.34" font-size="11.5" fill="#222" text-anchor="end" stroke="#222" stroke-width="0.240">60</text>
<line x1="389.60" y1="109.79" x2="391.80" y2="109.79" stroke="#555" stroke-width="1.1"/>
<line x1="387.80" y1="91.83" x2="391.80" y2="91.83" stroke="#555" stroke-width="1.1"/>
<text x="384.60" y="95.43" font-size="11.5" fill="#222" text-anchor="end" stroke="#222" stroke-width="0.240">70</text>
<line x1="389.60" y1="73.87" x2="391.80" y2="73.87" stroke="#555" stroke-width="1.1"/>
<line x1="387.80" y1="55.92" x2="391.80" y2="55.92" stroke="#555" stroke-width="1.1"/>
<text x="384.60" y="59.52" font-size="11.5" fill="#222" text-anchor="end" stroke="#222" stroke-width="0.240">80</text>
<line x1="389.60" y1="37.96" x2="391.80" y2="37.96" stroke="#555" stroke-width="1.1"/>
<line x1="387.80" y1="20.00" x2="391.80" y2="20.00" stroke="#555" stroke-width="1.1"/>
<text x="384.60" y="23.60" font-size="11.5" fill="#222" text-anchor="end" stroke="#222" stroke-width="0.240">90</text>
<line x1="405.78" y1="271.40" x2="405.78" y2="273.60" stroke="#2a2a2a" stroke-width="1.1"/>
<line x1="433.73" y1="271.40" x2="433.73" y2="275.40" stroke="#2a2a2a" stroke-width="1.1"/>
<text x="433.73" y="288.40" font-size="11.5" fill="#222" text-anchor="middle" stroke="#222" stroke-width="0.240">600</text>
<line x1="461.68" y1="271.40" x2="461.68" y2="273.60" stroke="#2a2a2a" stroke-width="1.1"/>
<line x1="489.62" y1="271.40" x2="489.62" y2="275.40" stroke="#2a2a2a" stroke-width="1.1"/>
<text x="489.62" y="288.40" font-size="11.5" fill="#222" text-anchor="middle" stroke="#222" stroke-width="0.240">800</text>
<line x1="517.58" y1="271.40" x2="517.58" y2="273.60" stroke="#2a2a2a" stroke-width="1.1"/>
<line x1="545.53" y1="271.40" x2="545.53" y2="275.40" stroke="#2a2a2a" stroke-width="1.1"/>
<text x="545.53" y="288.40" font-size="11.5" fill="#222" text-anchor="middle" stroke="#222" stroke-width="0.240">1000</text>
<line x1="573.48" y1="271.40" x2="573.48" y2="273.60" stroke="#2a2a2a" stroke-width="1.1"/>
<line x1="601.43" y1="271.40" x2="601.43" y2="275.40" stroke="#2a2a2a" stroke-width="1.1"/>
<text x="601.43" y="288.40" font-size="11.5" fill="#222" text-anchor="middle" stroke="#222" stroke-width="0.240">1200</text>
<line x1="629.38" y1="271.40" x2="629.38" y2="273.60" stroke="#2a2a2a" stroke-width="1.1"/>
<line x1="657.33" y1="271.40" x2="657.33" y2="275.40" stroke="#2a2a2a" stroke-width="1.1"/>
<text x="657.33" y="288.40" font-size="11.5" fill="#222" text-anchor="middle" stroke="#222" stroke-width="0.240">1400</text>
<text x="538.20" y="303.60" font-size="14.1" fill="#111" text-anchor="middle" stroke="#111" stroke-width="0.294">Yield strength (MPa)</text>
<text x="361.40" y="145.00" font-size="12.3" fill="#111" text-anchor="middle" transform="rotate(-90 361.4 145)" stroke="#111" stroke-width="0.256">Products of UTS and Total Elongation (GPa %)</text>
<text x="349.60" y="9.90" font-size="14" fill="#000" text-anchor="start" font-weight="bold" stroke="#000" stroke-width="0.292">b</text>
<text x="459.80" y="88.60" font-size="8.4" fill="#222" text-anchor="middle" stroke="#222" stroke-width="0.056">Fe-based</text>
<text x="459.80" y="98.20" font-size="8.4" fill="#222" text-anchor="middle" stroke="#222" stroke-width="0.056">alloys</text>
<text x="507.30" y="152.20" font-size="10.2" fill="#d2691e" text-anchor="middle" stroke="#d2691e" stroke-width="0.212">MEAs</text>
<text x="515.40" y="193.30" font-size="10.0" fill="#131f55" text-anchor="start" font-style="italic" transform="rotate(9.5 515.4 193.3)" stroke="#131f55" stroke-width="0.42">Ni-based alloys</text>
<text x="500.00" y="203.20" font-size="8.4" fill="#ff2020" text-anchor="middle" stroke="#ff2020" stroke-width="0.056">AM CoCrNi</text>
<text x="575.10" y="183.20" font-size="8.3" fill="#ff2020" text-anchor="middle" stroke="#ff2020" stroke-width="0.055">CoCrNi(TiC)</text>
<text x="601.50" y="222.30" font-size="8.3" fill="#ff2020" text-anchor="middle" stroke="#ff2020" stroke-width="0.055">μTiC-CoCrNi</text>
<text x="598.80" y="127.10" font-size="11" fill="#ff0000" text-anchor="start" stroke="#ff0000" stroke-width="0.229">nTiC-CoCrNi</text>
<text x="423.50" y="264.60" font-size="10.8" fill="#ff20ff" text-anchor="middle" stroke="#ff20ff" stroke-width="0.225">HEAs</text>
<text x="617.00" y="258.80" font-size="8.1" fill="#2aaa5a" text-anchor="middle" stroke="#2aaa5a" stroke-width="0.054">Ti-based</text>
<text x="617.00" y="268.30" font-size="8.1" fill="#2aaa5a" text-anchor="middle" stroke="#2aaa5a" stroke-width="0.054">alloys</text>
<line x1="551.30" y1="252.40" x2="602.50" y2="262.60" stroke="#333" stroke-width="0.8"/>
<rect x="444.10" y="107.30" width="4.8" height="4.8" fill="#000"/>
<rect x="464.80" y="110.90" width="4.8" height="4.8" fill="#000"/>
<rect x="487.20" y="125.40" width="4.8" height="4.8" fill="#000"/>
<rect x="451.80" y="132.30" width="4.8" height="4.8" fill="#000"/>
<rect x="473.60" y="132.30" width="4.8" height="4.8" fill="#000"/>
<rect x="456.90" y="160.50" width="4.8" height="4.8" fill="#000"/>
<rect x="467.70" y="182.60" width="4.8" height="4.8" fill="#000"/>
<rect x="409.00" y="221.00" width="4.8" height="4.8" fill="#000"/>
<rect x="545.90" y="168.90" width="4.8" height="4.8" fill="#000"/>
<circle cx="419.80" cy="59.60" r="2.9" fill="#f28a1c"/>
<circle cx="468.10" cy="127.80" r="2.9" fill="#f28a1c"/>
<circle cx="469.70" cy="137.60" r="2.9" fill="#f28a1c"/>
<circle cx="468.70" cy="144.80" r="2.9" fill="#f28a1c"/>
<circle cx="465.60" cy="192.40" r="2.9" fill="#f28a1c"/>
<circle cx="506.20" cy="124.10" r="2.9" fill="#f28a1c"/>
<circle cx="519.90" cy="158.10" r="2.9" fill="#f28a1c"/>
<circle cx="483.80" cy="206.70" r="2.9" fill="#f28a1c"/>
<circle cx="469.60" cy="244.90" r="2.9" fill="#f28a1c"/>
<circle cx="587.00" cy="199.70" r="2.9" fill="#f28a1c"/>
<circle cx="398.60" cy="266.70" r="2.9" fill="#f28a1c"/>
<path d="M396.90,157.43 L403.90,157.43 L400.40,163.38 Z" fill="#ff00ff"/>
<path d="M485.70,175.72 L492.70,175.72 L489.20,181.67 Z" fill="#ff00ff"/>
<path d="M502.70,211.93 L509.70,211.93 L506.20,217.88 Z" fill="#ff00ff"/>
<path d="M497.80,218.72 L504.80,218.72 L501.30,224.67 Z" fill="#ff00ff"/>
<path d="M524.80,217.83 L531.80,217.83 L528.30,223.78 Z" fill="#ff00ff"/>
<path d="M471.00,220.62 L478.00,220.62 L474.50,226.57 Z" fill="#ff00ff"/>
<path d="M570.20,206.93 L577.20,206.93 L573.70,212.88 Z" fill="#ff00ff"/>
<path d="M419.00,237.43 L426.00,237.43 L422.50,243.38 Z" fill="#ff00ff"/>
<path d="M591.90,248.43 L598.90,248.43 L595.40,254.38 Z" fill="#ff00ff"/>
<path d="M412.50,54.20 L418.50,50.80 L418.50,57.60 Z" fill="#1414a0"/>
<path d="M507.70,182.60 L513.70,179.20 L513.70,186.00 Z" fill="#1414a0"/>
<path d="M608.30,207.10 L614.30,203.70 L614.30,210.50 Z" fill="#1414a0"/>
<path d="M633.70,219.30 L639.70,215.90 L639.70,222.70 Z" fill="#1414a0"/>
<path d="M539.9,220.1 L543.5,224.4 L539.9,228.7 L536.3,224.4 Z" fill="#1e8c2e"/>
<path d="M550.8,256.1 L554.3,259.8 L550.8,263.5 L547.3,259.8 Z" fill="#1e8c2e"/>
<line x1="590.00" y1="116.40" x2="590.00" y2="133.40" stroke="#ff3030" stroke-width="0.7"/>
<line x1="587.40" y1="116.40" x2="592.60" y2="116.40" stroke="#ff3030" stroke-width="0.7"/>
<line x1="587.40" y1="133.40" x2="592.60" y2="133.40" stroke="#ff3030" stroke-width="0.7"/>
<line x1="585.10" y1="124.90" x2="595.10" y2="124.90" stroke="#ff3030" stroke-width="0.7"/>
<line x1="585.10" y1="122.30" x2="585.10" y2="127.50" stroke="#ff3030" stroke-width="0.7"/>
<line x1="595.10" y1="122.30" x2="595.10" y2="127.50" stroke="#ff3030" stroke-width="0.7"/>
<path d="M590.00,119.90 L591.23,123.20 L594.76,123.35 L592.00,125.55 L592.94,128.95 L590.00,127.00 L587.06,128.95 L588.00,125.55 L585.24,123.35 L588.77,123.20 Z" fill="#ff0000"/>
<line x1="604.80" y1="176.40" x2="604.80" y2="192.50" stroke="#ff3030" stroke-width="0.7"/>
<line x1="602.20" y1="176.40" x2="607.40" y2="176.40" stroke="#ff3030" stroke-width="0.7"/>
<line x1="602.20" y1="192.50" x2="607.40" y2="192.50" stroke="#ff3030" stroke-width="0.7"/>
<line x1="600.00" y1="184.30" x2="610.00" y2="184.30" stroke="#ff3030" stroke-width="0.7"/>
<line x1="600.00" y1="181.70" x2="600.00" y2="186.90" stroke="#ff3030" stroke-width="0.7"/>
<line x1="610.00" y1="181.70" x2="610.00" y2="186.90" stroke="#ff3030" stroke-width="0.7"/>
<path d="M604.80,179.30 L606.03,182.60 L609.56,182.75 L606.80,184.95 L607.74,188.35 L604.80,186.40 L601.86,188.35 L602.80,184.95 L600.04,182.75 L603.57,182.60 Z" fill="#ff0000"/>
<line x1="601.60" y1="200.80" x2="601.60" y2="213.80" stroke="#ff3030" stroke-width="0.7"/>
<line x1="599.00" y1="200.80" x2="604.20" y2="200.80" stroke="#ff3030" stroke-width="0.7"/>
<line x1="599.00" y1="213.80" x2="604.20" y2="213.80" stroke="#ff3030" stroke-width="0.7"/>
<line x1="597.40" y1="206.90" x2="606.20" y2="206.90" stroke="#ff3030" stroke-width="0.7"/>
<line x1="597.40" y1="204.30" x2="597.40" y2="209.50" stroke="#ff3030" stroke-width="0.7"/>
<line x1="606.20" y1="204.30" x2="606.20" y2="209.50" stroke="#ff3030" stroke-width="0.7"/>
<path d="M601.60,201.90 L602.83,205.20 L606.36,205.35 L603.60,207.55 L604.54,210.95 L601.60,209.00 L598.66,210.95 L599.60,207.55 L596.84,205.35 L600.37,205.20 Z" fill="#ff0000"/>
<line x1="527.10" y1="197.30" x2="527.10" y2="214.30" stroke="#ff3030" stroke-width="0.7"/>
<line x1="524.50" y1="197.30" x2="529.70" y2="197.30" stroke="#ff3030" stroke-width="0.7"/>
<line x1="524.50" y1="214.30" x2="529.70" y2="214.30" stroke="#ff3030" stroke-width="0.7"/>
<line x1="523.50" y1="205.70" x2="531.00" y2="205.70" stroke="#ff3030" stroke-width="0.7"/>
<line x1="523.50" y1="203.10" x2="523.50" y2="208.30" stroke="#ff3030" stroke-width="0.7"/>
<line x1="531.00" y1="203.10" x2="531.00" y2="208.30" stroke="#ff3030" stroke-width="0.7"/>
<path d="M527.10,200.70 L528.33,204.00 L531.86,204.15 L529.10,206.35 L530.04,209.75 L527.10,207.80 L524.16,209.75 L525.10,206.35 L522.34,204.15 L525.87,204.00 Z" fill="#ff0000"/>
<rect x="603.30" y="31.70" width="4.8" height="4.8" fill="#000"/>
<text x="617.80" y="37.20" font-size="8.6" fill="#111" text-anchor="start" stroke="#111" stroke-width="0.072">Fe-based alloys</text>
<circle cx="605.70" cy="44.68" r="2.9" fill="#f28a1c"/>
<text x="617.80" y="47.78" font-size="8.6" fill="#f08a24" text-anchor="start" stroke="#f08a24" stroke-width="0.072">MEAs</text>
<path d="M602.20,52.29 L609.20,52.29 L605.70,58.24 Z" fill="#ff00ff"/>
<text x="617.80" y="58.36" font-size="8.6" fill="#ff20ff" text-anchor="start" stroke="#ff20ff" stroke-width="0.072">HEAs</text>
<path d="M605.70,62.34 L609.20,65.84 L605.70,69.34 L602.20,65.84 Z" fill="#1e8c2e"/>
<text x="617.80" y="68.94" font-size="8.6" fill="#1e8c2e" text-anchor="start" stroke="#1e8c2e" stroke-width="0.072">Ti-based alloys</text>
<path d="M602.70,76.42 L608.70,73.02 L608.70,79.82 Z" fill="#1414a0"/>
<text x="617.80" y="79.52" font-size="8.6" fill="#1c1ca8" text-anchor="start" stroke="#1c1ca8" stroke-width="0.072">Ni-based alloys</text>
<path d="M605.70,82.00 L606.93,85.30 L610.46,85.45 L607.70,87.65 L608.64,91.05 L605.70,89.10 L602.76,91.05 L603.70,87.65 L600.94,85.45 L604.47,85.30 Z" fill="#ff0000"/>
<text x="617.80" y="90.10" font-size="8.6" fill="#ff0000" text-anchor="start" stroke="#ff0000" stroke-width="0.072">Our work</text>
</svg>
</body></html>
